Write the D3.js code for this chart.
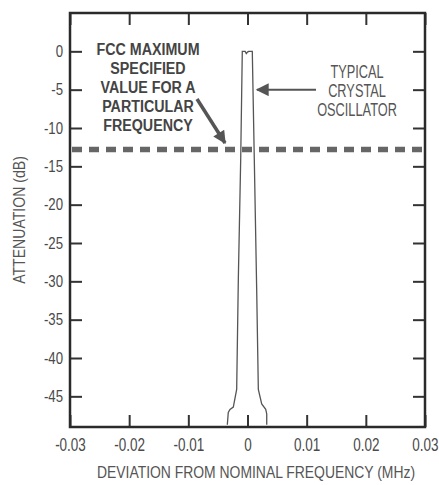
<!DOCTYPE html>
<html>
<head>
<meta charset="utf-8">
<script src="https://cdn.jsdelivr.net/npm/d3@7"></script>
<style>
  body { margin: 0; background: #fff; }
  svg { display: block; }
  text { font-family: "Liberation Sans", Arial, sans-serif; fill: #4a4a4a; }
</style>
</head>
<body>
<div id="chart"></div>
<script>
// chart data
var xTicks = [-0.03, -0.02, -0.01, 0, 0.01, 0.02, 0.03];
var yTicks = [0, -5, -10, -15, -20, -25, -30, -35, -40, -45];

// measured oscillator spectrum (MHz, dB)
var specFreq = [-0.00341, -0.00325, -0.00296, -0.0024, -0.00183, -0.00155, -0.00115, -0.00088,
                -0.0004, -0.0002, 0, 0.0002, 0.00081,
                0.00115, 0.00155, 0.00183, 0.0024, 0.00308, 0.00325, 0.00325];
var specAtten = [-48.7, -47.1, -46.7, -46.4, -44.1, -29.7, -14.1, 0,
                 0, -0.3, -0.1, 0, 0,
                 -14.1, -31, -44.1, -46, -46.7, -47.3, -48.7];

var fccLimit = -12.8;

var fccText = ["FCC MAXIMUM", "SPECIFIED", "VALUE FOR A", "PARTICULAR", "FREQUENCY"];
var oscText = ["TYPICAL", "CRYSTAL", "OSCILLATOR"];

//
// S E T U P
//
var W = 439, H = 485;
var margin = {top: 13, right: 14, bottom: 58, left: 70};
var w = W - margin.left - margin.right,
    h = H - margin.top - margin.bottom;

var svg = d3.select('#chart').append('svg')
  .attr('width', W)
  .attr('height', H);

var g = svg.append('g')
  .attr('transform', 'translate(' + margin.left + ',' + margin.top + ')');

var x = d3.scaleLinear().domain([-0.03, 0.03]).range([0, w]);
var y = d3.scaleLinear().domain([-49, 5]).range([h, 0]);

var tickLen = 12;

// axes, ticks point inward on all four sides
g.append('g')
  .attr('class', 'xaxis')
  .attr('transform', 'translate(0,' + h + ')')
  .call(d3.axisBottom(x).tickValues(xTicks).tickSize(-tickLen).tickPadding(11)
        .tickFormat(function(d){ return d === 0 ? '0' : d.toFixed(2); }));
g.append('g')
  .call(d3.axisTop(x).tickValues(xTicks).tickSize(-tickLen).tickFormat(''));
g.append('g')
  .attr('class', 'yaxis')
  .call(d3.axisLeft(y).tickValues(yTicks).tickSize(-tickLen)
        .tickFormat(function(d){ return String(d); }));
g.append('g')
  .attr('transform', 'translate(' + w + ',0)')
  .call(d3.axisRight(y).tickValues(yTicks).tickSize(-tickLen).tickFormat(''));

g.selectAll('.domain').remove();
g.selectAll('.tick line').attr('stroke', '#333').attr('stroke-width', 2);

// condensed look of the original lettering
g.selectAll('.xaxis .tick text')
  .attr('font-size', 18).attr('fill', '#555')
  .attr('transform', 'scale(0.75,1)');
g.selectAll('.yaxis .tick text')
  .attr('font-size', 16.5).attr('fill', '#555')
  .attr('x', 0)
  .attr('transform', 'translate(-7,0) scale(0.8,1)');

// plot frame
g.append('rect')
  .attr('x', 0).attr('y', 0).attr('width', w).attr('height', h)
  .attr('fill', 'none').attr('stroke', '#2a2a2a').attr('stroke-width', 2.5);

// FCC limit
g.append('line')
  .attr('x1', x(-0.03) + 2).attr('x2', x(0.03) - 1)
  .attr('y1', y(fccLimit)).attr('y2', y(fccLimit))
  .attr('stroke', '#666').attr('stroke-width', 5.5)
  .attr('stroke-dasharray', '10,7');

// spectrum
var line = d3.line()
  .x(function(d){ return x(d[0]); })
  .y(function(d){ return y(d[1]); });

g.append('path')
  .datum(d3.zip(specFreq, specAtten))
  .attr('d', line)
  .attr('fill', 'none')
  .attr('stroke', '#555')
  .attr('stroke-width', 1.3);

// arrowheads
var defs = svg.append('defs');
defs.append('marker')
  .attr('id', 'head')
  .attr('viewBox', '0 0 10 10')
  .attr('refX', 9).attr('refY', 5)
  .attr('markerUnits', 'userSpaceOnUse')
  .attr('markerWidth', 15).attr('markerHeight', 13)
  .attr('orient', 'auto')
  .append('path').attr('d', 'M0,0 L10,5 L0,10 Z').attr('fill', '#555');

// annotations
var fcc = svg.append('text')
  .attr('text-anchor', 'middle')
  .attr('font-size', 17)
  .attr('font-weight', 'bold')
  .attr('transform', 'translate(148,0) scale(0.84,1)')
  .style('fill', '#444');
fcc.selectAll('tspan').data(fccText).enter().append('tspan')
  .attr('x', 0)
  .attr('y', function(d, i){ return 55 + i * 19; })
  .text(function(d){ return d; });

svg.append('line')
  .attr('x1', 197).attr('y1', 99)
  .attr('x2', 225).attr('y2', 143)
  .attr('stroke', '#555').attr('stroke-width', 3.5)
  .attr('marker-end', 'url(#head)');

var osc = svg.append('text')
  .attr('text-anchor', 'middle')
  .attr('font-size', 18)
  .attr('transform', 'translate(357,0) scale(0.71,1)')
  .style('fill', '#555');
osc.selectAll('tspan').data(oscText).enter().append('tspan')
  .attr('x', 0)
  .attr('y', function(d, i){ return 78 + i * 19; })
  .text(function(d){ return d; });

g.append('line')
  .attr('x1', 316 - margin.left).attr('y1', y(-5))
  .attr('x2', 257 - margin.left).attr('y2', y(-5))
  .attr('stroke', '#555').attr('stroke-width', 2)
  .attr('marker-end', 'url(#head)');

// axis titles
svg.append('text')
  .attr('x', 0).attr('y', 0)
  .attr('text-anchor', 'middle')
  .attr('font-size', 16)
  .attr('transform', 'translate(256,478) scale(0.87,1)')
  .style('fill', '#555')
  .text('DEVIATION FROM NOMINAL FREQUENCY (MHz)');

svg.append('text')
  .attr('text-anchor', 'middle')
  .attr('font-size', 16)
  .attr('transform', 'translate(25,220) rotate(-90) scale(0.88,1)')
  .style('fill', '#555')
  .text('ATTENUATION (dB)');
</script>
</body>
</html>
